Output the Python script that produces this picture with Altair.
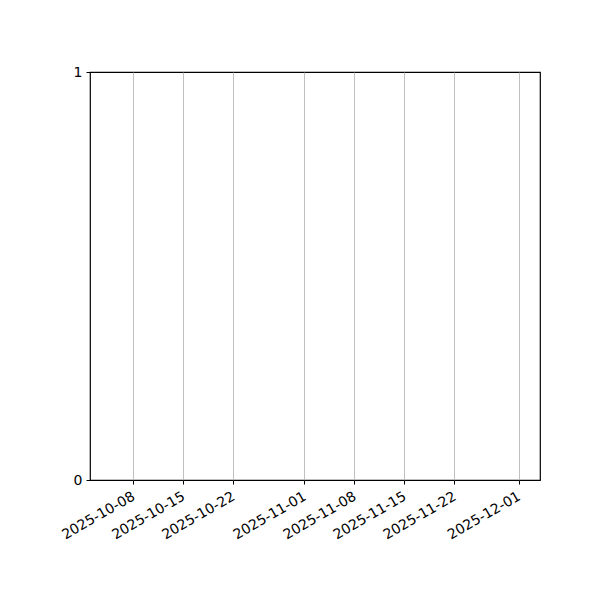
import altair as alt
import pandas as pd

tick_dates = ["2025-10-08", "2025-10-15", "2025-10-22", "2025-11-01",
              "2025-11-08", "2025-11-15", "2025-11-22", "2025-12-01"]
y_ticks = [0, 1]
domain_start = (2025, 10, 2)
domain_end = (2025, 12, 4)

df = pd.DataFrame({"date": tick_dates, "value": [0.5] * len(tick_dates)})

def dt(s):
    y, m, d = [int(p) for p in s.split("-")]
    return alt.DateTime(year=y, month=m, date=d, utc=True)

x_values = [dt(s) for s in tick_dates]

chart = alt.Chart(df).mark_point(opacity=0).encode(
    x=alt.X("date:T", title=None,
            scale=alt.Scale(type="utc",
                            domain=[alt.DateTime(year=domain_start[0], month=domain_start[1], date=domain_start[2], utc=True),
                                    alt.DateTime(year=domain_end[0], month=domain_end[1], date=domain_end[2], utc=True)]),
            axis=alt.Axis(values=x_values, format="%Y-%m-%d", labelAngle=-30,
                          labelAlign="right", labelBaseline="top", grid=True,
                          gridColor="#b0b0b0", gridWidth=0.8, gridOpacity=1,
                          tickColor="black", tickSize=4, domain=False,
                          labelFont="DejaVu Sans", labelFontSize=14, labelColor="black",
                          labelPadding=5, labelOffset=-3, labelOverlap=False, labelFlush=False)),
    y=alt.Y("value:Q", title=None, scale=alt.Scale(domain=[0, 1], nice=False, zero=False),
            axis=alt.Axis(values=y_ticks, grid=False, domain=False, tickColor="black",
                          tickSize=4, labelFont="DejaVu Sans", labelFontSize=14,
                          labelColor="black", labelPadding=4, format="d")),
).properties(
    width=450, height=408,
    background="white",
    autosize=alt.AutoSizeParams(type="none"),
    padding={"left": 82, "top": 64, "right": 52, "bottom": 112},
).configure_view(stroke="black", strokeWidth=1.2)

chart.save("out.html", embed_options={"renderer": "svg", "actions": False})
